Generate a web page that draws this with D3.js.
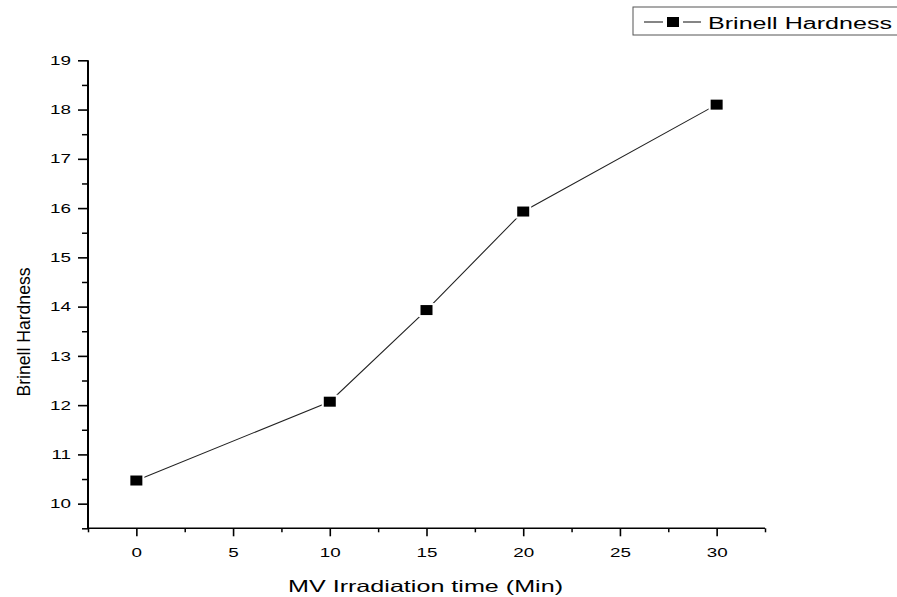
<!DOCTYPE html>
<html>
<head>
<meta charset="utf-8">
<script src="https://cdn.jsdelivr.net/npm/d3@7"></script>
<style>
  html, body { margin: 0; padding: 0; background: #fff; }
  text { font-family: "Liberation Sans", Arial, sans-serif; fill: #000; }
</style>
</head>
<body>
<svg id="chart" width="897" height="597"></svg>
<script>
const times = [0, 10, 15, 20, 30];
const hardness = [10.47, 12.07, 13.93, 15.93, 18.1];
const xTicks = [0, 5, 10, 15, 20, 25, 30];
const xMinorTicks = [-2.5, 2.5, 7.5, 12.5, 17.5, 22.5, 27.5, 32.5];
const yTicks = [10, 11, 12, 13, 14, 15, 16, 17, 18, 19];
const yMinorTicks = [9.5, 10.5, 11.5, 12.5, 13.5, 14.5, 15.5, 16.5, 17.5, 18.5];
const seriesName = "Brinell Hardness";
const xTitle = "MV Irradiation time (Min)";
const yTitle = "Brinell Hardness";

const svg = d3.select("#chart");
const x = d3.scaleLinear().domain([-2.5, 32.5]).range([88, 765]);
const y = d3.scaleLinear().domain([9.5, 19]).range([528.3, 60.3]);
const SX = 1.45;

// minor ticks
svg.append("g").attr("transform", `translate(0,${y.range()[0]})`)
  .call(d3.axisBottom(x).tickValues(xMinorTicks).tickSize(4).tickFormat(""))
  .call(g => g.select(".domain").remove())
  .call(g => g.selectAll("line").attr("stroke-width", 1.5));
svg.append("g").attr("transform", `translate(${x.range()[0]},0)`)
  .call(d3.axisLeft(y).tickValues(yMinorTicks).tickSize(6).tickFormat(""))
  .call(g => g.select(".domain").remove())
  .call(g => g.selectAll("line").attr("stroke-width", 1.5));

// major x axis
const gx = svg.append("g").attr("transform", `translate(0,${y.range()[0]})`)
  .call(d3.axisBottom(x).tickValues(xTicks).tickSizeInner(8).tickSizeOuter(0).tickPadding(11));
gx.select(".domain").attr("stroke-width", 1.6).attr("d", `M${x.range()[0]},0H${x.range()[1]}`);
gx.selectAll("line").attr("stroke-width", 1.6);
gx.selectAll("text").attr("font-size", 13).attr("font-family", "Liberation Sans, Arial, sans-serif")
  .attr("transform", `scale(${SX},1)`);

// major y axis
const gy = svg.append("g").attr("transform", `translate(${x.range()[0]},0)`)
  .call(d3.axisLeft(y).tickValues(yTicks).tickSizeInner(10).tickSizeOuter(0).tickPadding(7));
gy.select(".domain").attr("stroke-width", 2).attr("d", `M0,${y.range()[0] + 0.8}V${y.range()[1]}`);
gy.selectAll("line").attr("stroke-width", 1.6);
gy.selectAll("text").attr("font-size", 13).attr("font-family", "Liberation Sans, Arial, sans-serif")
  .attr("x", -17 / SX).attr("transform", `scale(${SX},1)`);

// line
const pts = times.map((t, i) => [t, hardness[i]]);
svg.append("path").datum(pts)
  .attr("fill", "none").attr("stroke", "#222").attr("stroke-width", 1.1)
  .attr("d", d3.line().x(d => x(d[0])).y(d => y(d[1])));

// markers (black square with thin white halo, so the line stops short of it)
const mw = 12, mh = 10;
svg.selectAll("rect.mk").data(pts).enter().append("rect").attr("class", "mk")
  .attr("x", d => x(d[0]) - mw / 2 - 1).attr("y", d => y(d[1]) - mh / 2 - 1)
  .attr("width", mw + 2).attr("height", mh + 2)
  .attr("fill", "#000").attr("stroke", "#fff").attr("stroke-width", 2);

// axis titles
svg.append("text").attr("x", 425.5).attr("y", 592).attr("text-anchor", "middle")
  .attr("font-size", 16.5).attr("textLength", 275).attr("lengthAdjust", "spacingAndGlyphs")
  .text(xTitle);
svg.append("text").attr("transform", "translate(29.5,332) rotate(-90)")
  .attr("text-anchor", "middle").attr("font-size", 19)
  .attr("textLength", 129).attr("lengthAdjust", "spacingAndGlyphs")
  .text(yTitle);

// legend
const lg = svg.append("g");
lg.append("rect").attr("x", 633).attr("y", 7).attr("width", 280).attr("height", 28)
  .attr("fill", "#fff").attr("stroke", "#555").attr("stroke-width", 1);
lg.append("line").attr("x1", 644).attr("x2", 663).attr("y1", 22).attr("y2", 22)
  .attr("stroke", "#222").attr("stroke-width", 1.1);
lg.append("line").attr("x1", 683).attr("x2", 701).attr("y1", 22).attr("y2", 22)
  .attr("stroke", "#222").attr("stroke-width", 1.1);
lg.append("rect").attr("x", 673 - mw / 2).attr("y", 22 - mh / 2).attr("width", mw).attr("height", mh).attr("fill", "#000");
lg.append("text").attr("x", 708).attr("y", 28.5).attr("font-size", 16)
  .attr("textLength", 184).attr("lengthAdjust", "spacingAndGlyphs").text(seriesName);
</script>
</body>
</html>
